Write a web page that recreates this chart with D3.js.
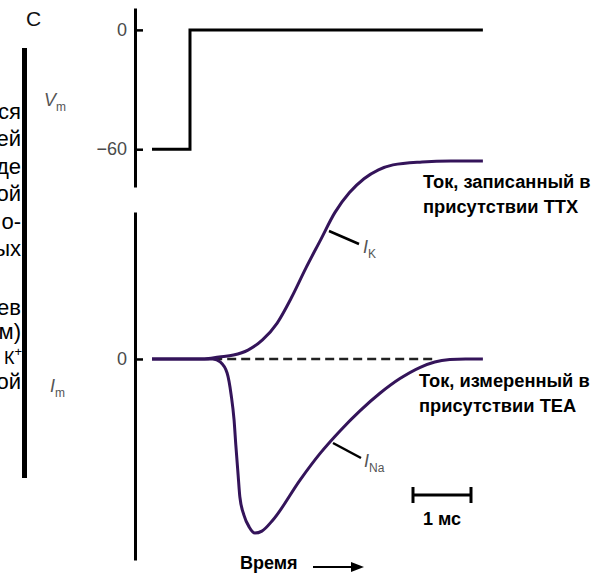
<!DOCTYPE html>
<html>
<head>
<meta charset="utf-8">
<script src="https://cdn.jsdelivr.net/npm/d3@7/dist/d3.min.js"></script>
<style>
  html, body { margin: 0; padding: 0; background: #fff; }
  svg { display: block; font-family: "Liberation Sans", Arial, sans-serif; }
</style>
</head>
<body>
<svg id="svg" width="597" height="574"></svg>
<script>
// время, мс (0 = момент ступеньки)
var vmTime = [-0.655, 0, 0, 5.05];
var vmValue = [-60, -60, 0, 0];          // мВ

var ikTime  = [-0.655, 0.25, 0.5, 0.75, 1.0, 1.25, 1.5, 1.75, 2.0, 2.25, 2.5, 2.75, 3.0, 3.25, 3.5, 4.0, 4.5, 5.05];
var ikValue = [0, 0, 0.01, 0.02, 0.045, 0.096, 0.18, 0.31, 0.46, 0.60, 0.74, 0.84, 0.91, 0.955, 0.98, 0.995, 1.0, 1.0];

var inaTime  = [-0.655, 0.40, 0.52, 0.64, 0.71, 0.76, 0.79, 0.83, 0.86, 0.93, 1.02, 1.12, 1.24, 1.43, 1.90, 2.24, 2.59, 2.93, 3.28, 3.62, 3.97, 4.22, 4.48, 4.75, 5.05];
var inaValue = [0, 0, -0.015, -0.071, -0.182, -0.308, -0.434, -0.586, -0.697, -0.788, -0.848, -0.879, -0.869, -0.813, -0.610, -0.478, -0.362, -0.262, -0.172, -0.099, -0.042, -0.015, -0.003, 0, 0];

var vmTicks = [0, -60];
var imTicks = [0];
var dashedSpan = [0.4, 4.2];
var scaleBar = [3.845, 4.845];     // 1 мс

// обрезанные строки текста слева
var sideText = ["ся", "ей", "де", "ой", "о-", "ых", "ев", "м)", "ой"];
var sideY    = [119, 146, 174, 201, 229, 256, 315, 339, 389];

var svg = d3.select("#svg");
var purple = "#34145a";

var x = d3.scaleLinear().domain([-0.655, 5.052]).range([152, 483]);
var yV = d3.scaleLinear().domain([-79, 11]).range([187, 8]);
var yI = d3.scaleLinear().domain([-1.015, 0.742]).range([560, 212]);

// левая полоса и текст
svg.append("rect").attr("x", 22).attr("y", 48).attr("width", 5).attr("height", 430).attr("fill", "#000");
svg.append("g").selectAll("text")
  .data(sideText)
  .enter().append("text")
  .attr("x", 21).attr("y", function (d, i) { return sideY[i]; })
  .attr("text-anchor", "end")
  .style("font-size", "22px")
  .attr("fill", "#000")
  .text(function (d) { return d; });
var kText = svg.append("text").attr("x", 22).attr("y", 364).attr("text-anchor", "end").attr("fill", "#000");
kText.append("tspan").style("font-size", "18px").text("К");
kText.append("tspan").style("font-size", "13px").attr("dy", -8).text("+");

svg.append("text").attr("x", 26).attr("y", 26).style("font-size", "21px").attr("fill", "#111").text("С");

// оси
function styleAxis(g) {
  g.select(".domain").attr("stroke", "#000").attr("stroke-width", 3);
  g.selectAll(".tick line").attr("stroke", "#000").attr("stroke-width", 2.5);
  g.selectAll(".tick text").attr("font-size", 18).attr("fill", "#4a4a4a")
    .attr("font-family", "Liberation Sans, Arial, sans-serif");
}
svg.append("g").attr("transform", "translate(135,0)")
  .call(d3.axisLeft(yV).tickValues(vmTicks).tickFormat(d3.format("d")).tickSize(-8).tickSizeOuter(0).tickPadding(8))
  .call(styleAxis);
svg.append("g").attr("transform", "translate(135,0)")
  .call(d3.axisLeft(yI).tickValues(imTicks).tickFormat(d3.format("d")).tickSize(-8).tickSizeOuter(0).tickPadding(8))
  .call(styleAxis);

// подписи осей
function axisLabel(px, py, sub) {
  var t = svg.append("text").attr("x", px).attr("y", py).attr("fill", "#555").style("font-size", "18px");
  t.append("tspan").attr("font-style", "italic").text(sub[0]);
  t.append("tspan").style("font-size", "12px").attr("dy", 5).text(sub[1]);
}
axisLabel(44, 106, ["V", "m"]);
axisLabel(50, 392, ["I", "m"]);

// Vm
svg.append("path")
  .datum(vmTime.map(function (t, i) { return [t, vmValue[i]]; }))
  .attr("fill", "none").attr("stroke", "#000").attr("stroke-width", 3)
  .attr("d", d3.line().x(function (d) { return x(d[0]); }).y(function (d) { return yV(d[1]); }));

// пунктир нуля
svg.append("line")
  .attr("x1", x(dashedSpan[0])).attr("x2", x(dashedSpan[1]))
  .attr("y1", yI(0)).attr("y2", yI(0))
  .attr("stroke", "#222").attr("stroke-width", 2.5).attr("stroke-dasharray", "9,5");

var currentLine = d3.line().curve(d3.curveMonotoneX)
  .x(function (d) { return x(d[0]); }).y(function (d) { return yI(d[1]); });

svg.append("path")
  .datum(ikTime.map(function (t, i) { return [t, ikValue[i]]; }))
  .attr("fill", "none").attr("stroke", purple).attr("stroke-width", 3).attr("d", currentLine);
svg.append("path")
  .datum(inaTime.map(function (t, i) { return [t, inaValue[i]]; }))
  .attr("fill", "none").attr("stroke", purple).attr("stroke-width", 3).attr("d", currentLine);

// выноски IK, INa
svg.append("line").attr("x1", 329).attr("y1", 231).attr("x2", 359).attr("y2", 244).attr("stroke", "#000").attr("stroke-width", 2.5);
svg.append("line").attr("x1", 333).attr("y1", 443).attr("x2", 361).attr("y2", 458).attr("stroke", "#000").attr("stroke-width", 2.5);
axisLabel(363, 253, ["I", "K"]);
axisLabel(364, 467, ["I", "Na"]);

// подписи справа
function boldLines(px, py, lines) {
  svg.append("g").selectAll("text").data(lines).enter().append("text")
    .attr("x", px).attr("y", function (d, i) { return py + i * 25; })
    .style("font-size", "18.3px").attr("font-weight", "bold").attr("fill", "#000")
    .text(function (d) { return d; });
}
boldLines(423, 188, ["Ток, записанный в", "присутствии TTX"]);
boldLines(419, 387, ["Ток, измеренный в", "присутствии TEA"]);

// масштабная линейка
var sb = svg.append("g").attr("stroke", "#000").attr("stroke-width", 3);
sb.append("line").attr("x1", x(scaleBar[0])).attr("x2", x(scaleBar[1])).attr("y1", 495).attr("y2", 495);
sb.append("line").attr("x1", x(scaleBar[0])).attr("x2", x(scaleBar[0])).attr("y1", 487).attr("y2", 503);
sb.append("line").attr("x1", x(scaleBar[1])).attr("x2", x(scaleBar[1])).attr("y1", 487).attr("y2", 503);
svg.append("text").attr("x", (x(scaleBar[0]) + x(scaleBar[1])) / 2).attr("y", 525)
  .attr("text-anchor", "middle").style("font-size", "18px").attr("font-weight", "bold").text("1 мс");

// Время →
svg.append("text").attr("x", 240).attr("y", 569).style("font-size", "18px").attr("font-weight", "bold").text("Время");
svg.append("line").attr("x1", 313).attr("x2", 352).attr("y1", 567).attr("y2", 567).attr("stroke", "#000").attr("stroke-width", 2);
svg.append("path").attr("d", "M351,562L364,567L351,572Z").attr("fill", "#000");
</script>
</body>
</html>
